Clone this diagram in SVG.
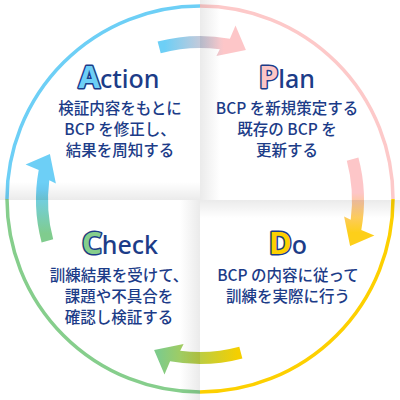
<svg xmlns="http://www.w3.org/2000/svg" width="400" height="400" viewBox="0 0 400 400">
<style>
.ring{fill:none;stroke-width:3.5}
.ttl{font-family:"Noto Sans","Liberation Sans",sans-serif;font-size:25px;font-weight:500;fill:#1c3c88;text-anchor:middle}
.cap{font-size:31px;font-weight:700;stroke:#1c3c88;stroke-width:3;paint-order:stroke fill;stroke-linejoin:round}
.jp{font-family:"Noto Sans CJK JP","Noto Sans",sans-serif;font-size:15.5px;font-weight:500;fill:#1c3c88;text-anchor:middle}
</style>
<defs>
<linearGradient id="gbp" x1="0" y1="0" x2="1" y2="0"><stop offset="0.08" stop-color="#6dcff6"/><stop offset="0.75" stop-color="#fdc6c8"/></linearGradient>
<linearGradient id="gpy" x1="0" y1="0" x2="1" y2="0"><stop offset="0.4" stop-color="#fdc6c8"/><stop offset="0.85" stop-color="#fdcf1a"/></linearGradient>
<linearGradient id="gyg" x1="0" y1="0" x2="1" y2="0"><stop offset="0.05" stop-color="#f5cf00"/><stop offset="0.95" stop-color="#7ecb8a"/></linearGradient>
<linearGradient id="ggb" x1="0" y1="0" x2="1" y2="0"><stop offset="0.1" stop-color="#80cc8e"/><stop offset="0.6" stop-color="#6dcff6"/></linearGradient>
<linearGradient id="shV" x1="0" y1="0" x2="0" y2="1"><stop offset="0" stop-color="#000" stop-opacity="0"/><stop offset="1" stop-color="#000" stop-opacity="0.08"/></linearGradient>
<linearGradient id="shH" x1="0" y1="0" x2="1" y2="0"><stop offset="0" stop-color="#000" stop-opacity="0"/><stop offset="1" stop-color="#000" stop-opacity="0.08"/></linearGradient>
<path id="arrow" d="M157.6,41.6 A164,164 0 0 1 229.9,38.7 L235.5,25.6 L245.9,49.9 L216.4,55.9 L219.8,49.3 A152,152 0 0 0 160.7,53.2 Z"/>
</defs>
<rect width="400" height="400" fill="#fff"/>
<g id="ring">
<path class="ring" stroke="#6dcff6" d="M7,199 A193,193 0 0 1 200,6"/>
<path class="ring" stroke="#fdc9c9" d="M200,6 A193,193 0 0 1 393,199"/>
<path class="ring" stroke="#fdd000" d="M393,199 A193,193 0 0 1 200,392"/>
<path class="ring" stroke="#86ce8c" d="M200,392 A193,193 0 0 1 7,199"/>
</g>
<g id="connectors">
<path d="M157.6,41.6 A164,164 0 0 1 229.9,38.7 L235.5,25.6 L245.9,49.9 L216.4,55.9 L219.8,49.3 A152,152 0 0 0 160.7,53.2 Z" fill="url(#gbp)"/>
<path d="M157.6,41.6 A164,164 0 0 1 229.9,38.7 L235.5,25.6 L245.9,49.9 L216.4,55.9 L219.8,49.3 A152,152 0 0 0 160.7,53.2 Z" fill="url(#gpy)" transform="rotate(90 200 200)"/>
<path d="M157.6,41.6 A164,164 0 0 1 229.9,38.7 L235.5,25.6 L245.9,49.9 L216.4,55.9 L219.8,49.3 A152,152 0 0 0 160.7,53.2 Z" fill="url(#gyg)" transform="rotate(180 200 200)"/>
<path d="M157.6,41.6 A164,164 0 0 1 229.9,38.7 L235.5,25.6 L245.9,49.9 L216.4,55.9 L219.8,49.3 A152,152 0 0 0 160.7,53.2 Z" fill="url(#ggb)" transform="rotate(270 200 200)"/>
</g>
<g id="action">
<text class="ttl" x="119" y="88"><tspan class="cap" fill="#6dcff6">A</tspan>ction</text>
<text class="jp" x="120" y="114">検証内容をもとに</text>
<text class="jp" x="120" y="135">BCP を修正し、</text>
<text class="jp" x="120" y="156">結果を周知する</text>
</g>
<g id="plan">
<text class="ttl" x="287" y="88"><tspan class="cap" fill="#fcc6c6">P</tspan>lan</text>
<text class="jp" x="287" y="114">BCP を新規策定する</text>
<text class="jp" x="287" y="135">既存の BCP を</text>
<text class="jp" x="287" y="156">更新する</text>
</g>
<g id="check">
<text class="ttl" x="120" y="254"><tspan class="cap" fill="#86ce8c">C</tspan>heck</text>
<text class="jp" x="119" y="281">訓練結果を受けて、</text>
<text class="jp" x="119" y="302">課題や不具合を</text>
<text class="jp" x="119" y="323">確認し検証する</text>
</g>
<g id="do">
<text class="ttl" x="288" y="254"><tspan class="cap" fill="#fdd000">D</tspan>o</text>
<text class="jp" x="288" y="281">BCP の内容に従って</text>
<text class="jp" x="288" y="302">訓練を実際に行う</text>
</g>
<g id="fold">
<rect x="0" y="182" width="200" height="18" fill="url(#shV)"/>
<rect x="200" y="0" width="20" height="200" fill="url(#shH)" transform="rotate(180 210 100)"/>
<rect x="200" y="200" width="200" height="18" fill="url(#shV)" transform="rotate(180 300 209)"/>
<rect x="180" y="200" width="20" height="200" fill="url(#shH)"/>
</g>
</svg>
